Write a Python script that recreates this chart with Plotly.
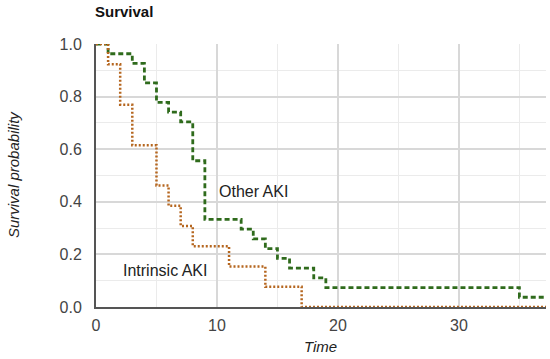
import plotly.graph_objects as go

# Kaplan-Meier step data
intrinsic_time = [0, 1, 2, 3, 5, 6, 7, 8, 11, 14, 17, 37.2]
intrinsic_surv = [1.0, 0.923, 0.769, 0.615, 0.462, 0.385, 0.308, 0.231, 0.154, 0.077, 0.0, 0.0]

other_time = [0, 1, 3, 4, 5, 6, 7, 8, 9, 12, 13, 14, 15, 16, 18, 19, 35, 37.2]
other_surv = [1.0, 0.963, 0.926, 0.852, 0.778, 0.741, 0.704, 0.556, 0.333, 0.296,
              0.259, 0.222, 0.185, 0.148, 0.111, 0.074, 0.037, 0.037]

x_ticks = [0, 10, 20, 30]
y_ticks = [0.0, 0.2, 0.4, 0.6, 0.8, 1.0]

FONT = "Liberation Sans, Arial"

fig = go.Figure()
fig.add_trace(go.Scatter(
    x=other_time, y=other_surv, mode="lines", line_shape="hv",
    line=dict(color="#2f6b1c", width=2.8, dash="5px,3px"), name="Other AKI",
))
fig.add_trace(go.Scatter(
    x=intrinsic_time, y=intrinsic_surv, mode="lines", line_shape="hv",
    line=dict(color="#b5661f", width=2.5, dash="2px,2px"), name="Intrinsic AKI",
))

fig.add_annotation(x=10.0, y=0.44, text="Other AKI", showarrow=False, xanchor="left",
                   font=dict(size=16, color="#222", family=FONT))
fig.add_annotation(x=2.1, y=0.14, text="Intrinsic AKI", showarrow=False, xanchor="left",
                   font=dict(size=16, color="#222", family=FONT))

# axis titles placed as paper annotations
fig.add_annotation(xref="paper", yref="paper", x=-0.182, y=0.502, text="<i>Survival probability</i>",
                   textangle=-90, showarrow=False, xanchor="center", yanchor="middle",
                   font=dict(size=15, color="#222", family=FONT))
fig.add_annotation(xref="paper", yref="paper", x=0.498, y=-0.152, text="<i>Time</i>",
                   showarrow=False, xanchor="center", yanchor="middle",
                   font=dict(size=15, color="#222", family=FONT))

fig.update_layout(
    width=550, height=359,
    margin=dict(l=96, r=4, t=44, b=52, autoexpand=False),
    paper_bgcolor="white", plot_bgcolor="white",
    showlegend=False,
    font=dict(family=FONT, color="#444", size=16),
    title=dict(text="<b>Survival</b>", x=95/550, xanchor="left", y=1 - 12/359, yanchor="middle",
               font=dict(size=15, color="#111", family=FONT)),
)
fig.update_xaxes(
    range=[0, 37.2], tickvals=x_ticks, showline=True, linecolor="#555", linewidth=2,
    gridcolor="#d8d8d8", gridwidth=1.5, zeroline=False, ticks="", automargin=False,
    minor=dict(dtick=5, showgrid=True, gridcolor="#ebebeb", gridwidth=1),
    tickfont=dict(size=16, color="#444"), ticklabelstandoff=3,
)
fig.update_yaxes(
    range=[0, 1.0], tickvals=y_ticks, tickformat=".1f", showline=True, linecolor="#555",
    linewidth=2, gridcolor="#d8d8d8", gridwidth=1.5, zeroline=False, ticks="", automargin=False,
    minor=dict(dtick=0.1, showgrid=True, gridcolor="#ebebeb", gridwidth=1),
    tickfont=dict(size=16, color="#444"), ticklabelstandoff=9,
)

fig.write_html("out.html", config={"displayModeBar": False},
               post_script="document.body.style.margin='0';document.body.style.overflow='hidden';")
